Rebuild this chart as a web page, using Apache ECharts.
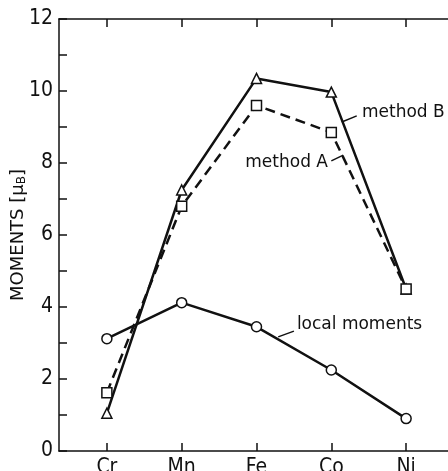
<!DOCTYPE html>
<html>
<head>
<meta charset="utf-8">
<script src="https://cdn.jsdelivr.net/npm/echarts@6/dist/echarts.min.js"></script>
<style>
  html, body { margin: 0; padding: 0; background: #fff; }
  #chart { width: 448px; height: 471px; }
</style>
</head>
<body>
<div id="chart"></div>
<script>
const elements = ['Cr', 'Mn', 'Fe', 'Co', 'Ni'];
const methodB = [1.05, 7.25, 10.35, 9.97, 4.5];
const methodA = [1.62, 6.8, 9.6, 8.85, 4.5];
const localMoments = [3.12, 4.12, 3.45, 2.25, 0.9];
const yTicks = [0, 2, 4, 6, 8, 10, 12];

// label text anchor + leader line (data coords)
const notes = [
  { text: 'method B', at: [3.41, 9.39], from: [3.14, 9.14], to: [3.34, 9.31] },
  { text: 'method A', at: [1.85, 8.0], from: [3.0, 8.06], to: [3.16, 8.22] },
  { text: 'local moments', at: [2.54, 3.5], from: [2.29, 3.17], to: [2.5, 3.33] },
];

const NUM_FONT = "'Liberation Sans Narrow', 'DejaVu Sans Condensed', sans-serif";
const TXT_FONT = "'DejaVu Sans', sans-serif";
const ink = '#111';

const pairs = (vals) => vals.map((v, i) => [i, v]);

const chart = echarts.init(document.getElementById('chart'));

const xTickIdx = elements.map((_, i) => i);

chart.setOption({
  animation: false,
  backgroundColor: '#fff',
  grid: { left: 59, top: 19, width: 395, height: 432, containLabel: false, outerBoundsMode: 'none' },
  xAxis: [{
    type: 'value', min: -0.64, max: 4.64,
    axisLine: { onZero: false, lineStyle: { color: ink, width: 1.5 } },
    splitLine: { show: false },
    axisTick: { inside: true, length: 8, customValues: xTickIdx, lineStyle: { color: ink, width: 1.5 } },
    axisLabel: {
      customValues: xTickIdx, margin: 6, color: ink, fontSize: 21, fontFamily: NUM_FONT,
      formatter: (v) => elements[Math.round(v)] || '',
    },
  }, {
    type: 'value', position: 'top', min: -0.64, max: 4.64,
    axisLine: { show: true, onZero: false, lineStyle: { color: ink, width: 1.5 } },
    splitLine: { show: false },
    axisTick: { show: true, inside: true, length: 8, customValues: xTickIdx, lineStyle: { color: ink, width: 1.5 } },
    axisLabel: { show: false },
  }],
  yAxis: {
    type: 'value', min: 0, max: 12, interval: 1,
    name: 'MOMENTS [μ{s|B}]',
    nameLocation: 'middle', nameGap: 31, nameRotate: 90, nameMoveOverlap: false,
    nameTextStyle: {
      color: ink, fontSize: 18, fontFamily: TXT_FONT,
      rich: { s: { fontSize: 12, fontFamily: TXT_FONT, color: ink, verticalAlign: 'bottom', padding: [8, 0, 0, 0] } },
    },
    axisLine: { show: true, onZero: false, lineStyle: { color: ink, width: 1.5 } },
    splitLine: { show: false },
    axisTick: { inside: true, length: 8, lineStyle: { color: ink, width: 1.5 } },
    axisLabel: {
      margin: 6, color: ink, fontSize: 21, fontFamily: NUM_FONT,
      formatter: (v) => (yTicks.includes(v) ? String(v) : ''),
    },
  },
  series: [{
    name: 'method B', type: 'line', data: pairs(methodB),
    symbol: 'triangle', symbolSize: 10,
    lineStyle: { color: ink, width: 2.5 },
    itemStyle: { color: '#fff', borderColor: ink, borderWidth: 1.5 },
  }, {
    name: 'method A', type: 'line', data: pairs(methodA),
    symbol: 'rect', symbolSize: 10,
    lineStyle: { color: ink, width: 2.5, type: [10, 6] },
    itemStyle: { color: '#fff', borderColor: ink, borderWidth: 1.5 },
  }, {
    name: 'local moments', type: 'line', data: pairs(localMoments),
    symbol: 'circle', symbolSize: 10,
    lineStyle: { color: ink, width: 2.5 },
    itemStyle: { color: '#fff', borderColor: ink, borderWidth: 1.5 },
  }],
});

const px = (p) => chart.convertToPixel({ gridIndex: 0 }, p);
const graphics = [];
notes.forEach((n) => {
  const t = px(n.at);
  const a = px(n.from);
  const b = px(n.to);
  graphics.push({
    type: 'text', x: t[0], y: t[1],
    style: { text: n.text, fill: ink, font: `17px ${TXT_FONT}`, verticalAlign: 'middle', align: 'left' },
  });
  graphics.push({
    type: 'line', shape: { x1: a[0], y1: a[1], x2: b[0], y2: b[1] },
    style: { stroke: ink, lineWidth: 1.5 },
  });
});
chart.setOption({ graphic: graphics });
</script>
</body>
</html>
